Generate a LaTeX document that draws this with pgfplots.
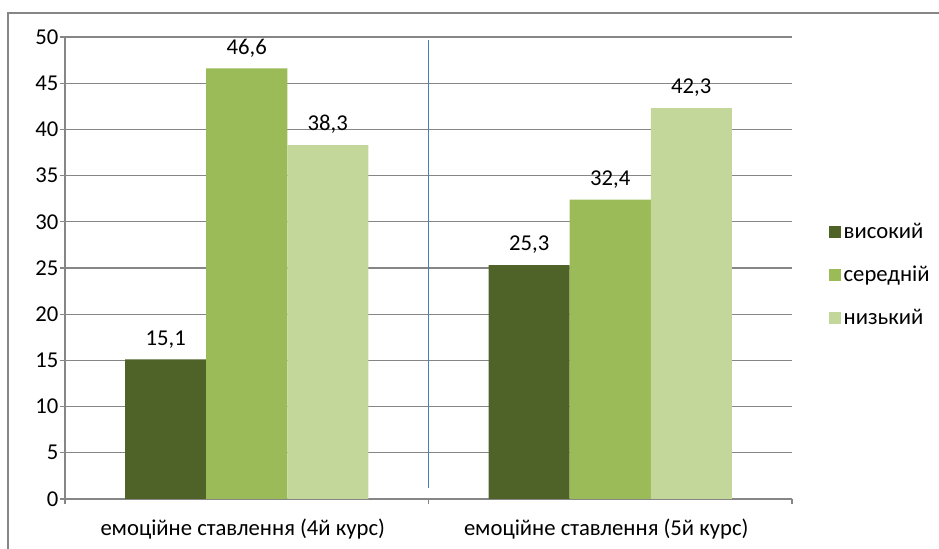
\documentclass[border=0pt]{standalone}
\usepackage{pgfplots}
\pgfplotsset{compat=1.18}
\usepackage{fontspec}
\setmainfont{Carlito}
\definecolor{dk}{HTML}{4F6228}
\definecolor{md}{HTML}{9BBB59}
\definecolor{lt}{HTML}{C4D79B}
\definecolor{gr}{HTML}{868686}
\definecolor{bl}{HTML}{4A7EBB}
\begin{document}
\begin{tikzpicture}
\draw[gr, line width=0.9pt] (6pt,0pt) -- (6pt,402pt) -- (704.25pt,402pt);
\begin{axis}[
  at={(48.75pt,37.5pt)}, anchor=south west,
  scale only axis, width=545.25pt, height=346.5pt,
  xmin=-0.5, xmax=1.5, ymin=0, ymax=50,
  ybar=0pt, bar width=0.2229,
  xtick={0,1},
  xticklabels={емоційне ставлення (4й курс), емоційне ставлення (5й курс)},
  minor xtick={-0.5,0.5,1.5},
  major x tick style={draw=none},
  ytick={0,5,...,50},
  tick align=outside,
  major tick length=4pt, minor tick length=4pt,
  tick style={gr, line width=0.8pt},
  ymajorgrids, grid style={gr, line width=0.8pt},
  axis x line*=bottom, axis y line*=left,
  axis line style={gr, line width=0.9pt, -},
  font=\fontsize{17}{20}\selectfont,
  ticklabel style={font=\fontsize{17}{20}\selectfont, text=black},
  /pgf/number format/assume math mode=true,
  xticklabel style={yshift=-7.5pt, xshift=-3pt},
  yticklabel style={xshift=2.5pt},
  nodes near coords,
  every node near coord/.append style={font=\fontsize{17}{20}\selectfont, text=black, yshift=5pt, /pgf/number format/use comma, /pgf/number format/fixed, /pgf/number format/precision=1},
  legend style={draw=none, fill=none, at={(rel axis cs:1.045,0.485)}, anchor=west, row sep=15pt, font=\fontsize{17}{20}\selectfont},
  legend cell align=left,
  legend image code/.code={\fill[#1] (0pt,-4.5pt) rectangle (9pt,4.5pt);},
]
\addplot[fill=dk, draw=none] coordinates {(0,15.1) (1,25.3)};
\addplot[fill=md, draw=none] coordinates {(0,46.6) (1,32.4)};
\addplot[fill=lt, draw=none] coordinates {(0,38.3) (1,42.3)};
\legend{високий, середній, низький}
\draw[bl, line width=1.1pt] (axis cs:0.5,1.19) -- (axis cs:0.5,49.7);
\end{axis}
\pgfresetboundingbox
\path[use as bounding box] (0pt,0pt) rectangle (704.25pt,411.75pt);
\end{tikzpicture}
\end{document}
